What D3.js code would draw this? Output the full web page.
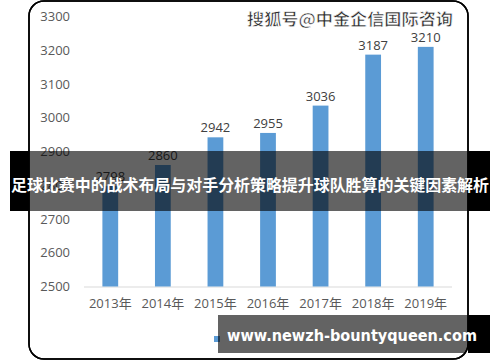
<!DOCTYPE html>
<html>
<head>
<meta charset="utf-8">
<style>
  body { margin: 0; background: #fff; }
  svg { display: block; }
</style>
</head>
<body>
<svg width="500" height="362"></svg>
<script src="https://d3js.org/d3.v7.min.js"></script>
<script>
// chart data
var years = ["2013年", "2014年", "2015年", "2016年", "2017年", "2018年", "2019年"];
var sales = [2798, 2860, 2942, 2955, 3036, 3187, 3210];
var yTicks = [2500, 2600, 2700, 2800, 2900, 3000, 3100, 3200, 3300];

var title = "足球比赛中的战术布局与对手分析策略提升球队胜算的关键因素解析";
var watermark = "搜狐号@中金企信国际咨询";
var site = "www.newzh-bountyqueen.com";

var svg = d3.select("svg"),
    font = "'Open Sans','Noto Sans CJK SC',sans-serif",
    box = {x: 29, y: 1, w: 439, h: 358, r: 15};

var x = d3.scaleBand().domain(years).range([84, 452]).paddingInner(0.7).paddingOuter(0.35);
var y = d3.scaleLinear().domain([2500, 3300]).range([286.5, 16.5]);

svg.append("defs").append("clipPath").attr("id", "inside")
  .append("rect").attr("x", box.x).attr("y", box.y).attr("width", box.w).attr("height", box.h).attr("rx", box.r);

// chart frame
svg.append("rect")
  .attr("x", box.x).attr("y", box.y).attr("width", box.w).attr("height", box.h)
  .attr("rx", box.r).attr("fill", "#fff").attr("stroke", "#000").attr("stroke-width", 1.5);

// y labels (no axis line)
var yAxis = d3.axisLeft(y).tickValues(yTicks).tickFormat(d3.format("d")).tickSize(0).tickPadding(0);
var gy = svg.append("g").attr("transform", "translate(70,0)").call(yAxis);
gy.select(".domain").remove();
gy.selectAll("text").attr("font-family", font).attr("font-size", 13).attr("fill", "#595959");

// x axis
var xAxis = d3.axisBottom(x).tickSize(0).tickPadding(12);
var gx = svg.append("g").attr("transform", "translate(0," + y(2500) + ")").call(xAxis);
gx.select(".domain").attr("stroke", "#d9d9d9").attr("d", "M84,0.5H452");
gx.selectAll("text").attr("font-family", font).attr("font-size", 13).attr("fill", "#595959");

// bars
svg.append("g").selectAll("rect").data(sales).join("rect")
  .attr("x", function(d, i) { return x(years[i]); })
  .attr("y", function(d) { return y(d); })
  .attr("width", x.bandwidth())
  .attr("height", function(d) { return y(2500) - y(d); })
  .attr("fill", "#5b9bd5");

// value labels
svg.append("g").selectAll("text").data(sales).join("text")
  .attr("x", function(d, i) { return x(years[i]) + x.bandwidth() / 2; })
  .attr("y", function(d) { return y(d) - 5; })
  .attr("text-anchor", "middle")
  .attr("font-family", font).attr("font-size", 13).attr("fill", "#404040")
  .text(function(d) { return d; });

// legend marker (text hidden under banner)
svg.append("rect").attr("x", 214).attr("y", 336).attr("width", 6).attr("height", 6).attr("fill", "#5b9bd5");

// watermark
svg.append("text")
  .attr("x", 350).attr("y", 25).attr("text-anchor", "middle")
  .attr("font-family", "'Noto Sans CJK SC',sans-serif").attr("font-weight", "bold").attr("font-size", 16)
  .attr("fill", "#2b2b2b").attr("stroke", "#fff").attr("stroke-width", 0.6)
  .attr("textLength", 206).attr("lengthAdjust", "spacingAndGlyphs")
  .text(watermark);

// banners: black outside the frame, translucent black inside
function banner(bx, by, bw, bh) {
  if (bx < box.x) svg.append("rect").attr("x", bx).attr("y", by).attr("width", box.x - bx).attr("height", bh).attr("fill", "#000");
  if (bx + bw > box.x + box.w) svg.append("rect").attr("x", box.x + box.w).attr("y", by).attr("width", bx + bw - box.x - box.w).attr("height", bh).attr("fill", "#000");
  svg.append("rect").attr("x", Math.max(bx, box.x)).attr("y", by)
    .attr("width", Math.min(bx + bw, box.x + box.w) - Math.max(bx, box.x)).attr("height", bh)
    .attr("fill", "#000").attr("fill-opacity", 0.61).attr("clip-path", "url(#inside)");
  // corners outside the rounded frame
  var b = box;
  svg.append("path")
    .attr("d", "M" + b.x + "," + b.y + "H" + (b.x + b.w) + "V" + (b.y + b.h) + "H" + b.x + "Z" +
      "M" + (b.x + b.r) + "," + b.y + "H" + (b.x + b.w - b.r) +
      "A" + b.r + "," + b.r + " 0 0 1 " + (b.x + b.w) + "," + (b.y + b.r) +
      "V" + (b.y + b.h - b.r) +
      "A" + b.r + "," + b.r + " 0 0 1 " + (b.x + b.w - b.r) + "," + (b.y + b.h) +
      "H" + (b.x + b.r) +
      "A" + b.r + "," + b.r + " 0 0 1 " + b.x + "," + (b.y + b.h - b.r) +
      "V" + (b.y + b.r) +
      "A" + b.r + "," + b.r + " 0 0 1 " + (b.x + b.r) + "," + b.y + "Z")
    .attr("fill-rule", "evenodd").attr("fill", "#000")
    .style("clip-path", "inset(" + by + "px " + (500 - bx - bw) + "px " + (362 - by - bh) + "px " + bx + "px)");
}
banner(10, 151, 480, 60);
banner(218, 315, 272, 38);

// frame border on top
svg.append("rect")
  .attr("x", box.x).attr("y", box.y).attr("width", box.w).attr("height", box.h)
  .attr("rx", box.r).attr("fill", "none").attr("stroke", "#000").attr("stroke-width", 1.5);

svg.append("text")
  .attr("x", 250).attr("y", 191).attr("text-anchor", "middle")
  .attr("font-family", "'Noto Sans CJK SC',sans-serif").attr("font-weight", "bold").attr("font-size", 16)
  .attr("fill", "#fff").attr("textLength", 478).attr("lengthAdjust", "spacingAndGlyphs")
  .text(title);

svg.append("text")
  .attr("x", 352).attr("y", 341).attr("text-anchor", "middle")
  .attr("font-family", "'DejaVu Sans',sans-serif").attr("font-weight", "bold").attr("font-size", 15)
  .attr("fill", "#fff").attr("textLength", 250).attr("lengthAdjust", "spacingAndGlyphs")
  .text(site);
</script>
</body>
</html>
